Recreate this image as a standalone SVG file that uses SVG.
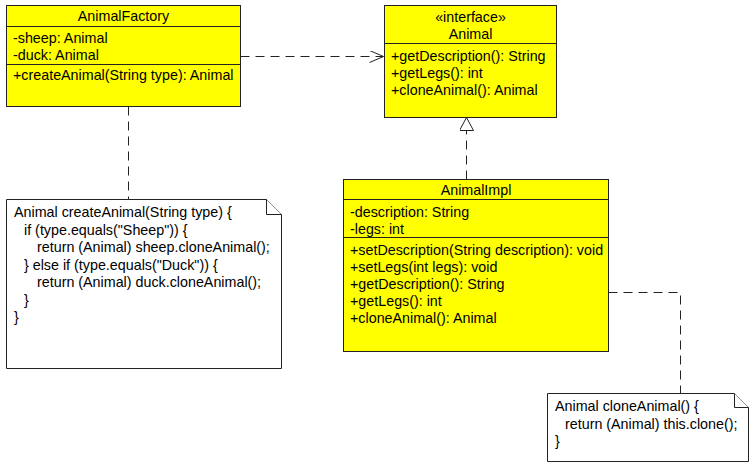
<svg xmlns="http://www.w3.org/2000/svg" width="749" height="462" viewBox="0 0 749 462">
<style>
.box{fill:#ffff00;stroke:#222;stroke-width:1}
.sep{stroke:#222;stroke-width:1}
.note{fill:#fff;stroke:#222;stroke-width:1}
text{font-family:"Liberation Sans",Arial,sans-serif;font-size:14.3px;fill:#000}
.c{text-anchor:middle}
.dash{fill:none;stroke:#222;stroke-width:1;stroke-dasharray:9,6}
</style>
<defs>
<marker id="open" markerWidth="16" markerHeight="12" refX="15" refY="6" orient="auto" markerUnits="userSpaceOnUse">
<path d="M1,0 L15,6 L1,12" fill="none" stroke="#222" stroke-width="1"/>
</marker>
<marker id="tri" markerWidth="16" markerHeight="16" refX="14" refY="7" orient="auto" markerUnits="userSpaceOnUse">
<path d="M1,0 L14,7 L1,14 Z" fill="#fff" stroke="#222" stroke-width="1"/>
</marker>
</defs>
<g id="connectors">
<path class="dash" d="M240.5,56.5 H383.5" marker-end="url(#open)"/>
<path class="dash" d="M466.5,179.5 V117.5" marker-end="url(#tri)"/>
<path class="dash" d="M128.5,106.5 V199.5"/>
<path class="dash" d="M608.5,292.5 H680.5 V393.5"/>
</g>
<g id="AnimalFactory">
<rect class="box" x="6.5" y="5.5" width="234" height="101"/>
<line class="sep" x1="6.5" y1="26.5" x2="240.5" y2="26.5"/>
<line class="sep" x1="6.5" y1="64.5" x2="240.5" y2="64.5"/>
<text class="c" x="123.5" y="21">AnimalFactory</text>
<text x="13" y="43">-sheep: Animal</text>
<text x="13" y="60">-duck: Animal</text>
<text x="13" y="80">+createAnimal(String type): Animal</text>
</g>
<g id="Animal">
<rect class="box" x="384.5" y="5.5" width="172" height="112"/>
<line class="sep" x1="384.5" y1="43.5" x2="556.5" y2="43.5"/>
<text class="c" x="470.5" y="22">«interface»</text>
<text class="c" x="470.5" y="39">Animal</text>
<text x="391" y="61">+getDescription(): String</text>
<text x="391" y="78">+getLegs(): int</text>
<text x="391" y="95">+cloneAnimal(): Animal</text>
</g>
<g id="AnimalImpl">
<rect class="box" x="343.5" y="179.5" width="265" height="172"/>
<line class="sep" x1="343.5" y1="199.5" x2="608.5" y2="199.5"/>
<line class="sep" x1="343.5" y1="237.5" x2="608.5" y2="237.5"/>
<text class="c" x="476" y="195">AnimalImpl</text>
<text x="350" y="217">-description: String</text>
<text x="350" y="234">-legs: int</text>
<text x="350" y="255">+setDescription(String description): void</text>
<text x="350" y="272">+setLegs(int legs): void</text>
<text x="350" y="289">+getDescription(): String</text>
<text x="350" y="306">+getLegs(): int</text>
<text x="350" y="323">+cloneAnimal(): Animal</text>
</g>
<g id="note1">
<path class="note" d="M6.5,199.5 H266.5 L281.5,214.5 V368.5 H6.5 Z"/>
<path class="note" d="M266.5,199.5 V214.5 H281.5" fill="none"/>
<text x="14" y="217">Animal createAnimal(String type) {</text>
<text x="24" y="235">if (type.equals("Sheep")) {</text>
<text x="37" y="252">return (Animal) sheep.cloneAnimal();</text>
<text x="24" y="270">} else if (type.equals("Duck")) {</text>
<text x="37" y="287">return (Animal) duck.cloneAnimal();</text>
<text x="24" y="305">}</text>
<text x="14" y="322">}</text>
</g>
<g id="note2">
<path class="note" d="M547.5,393.5 H734.5 L748.5,407.5 V461.5 H547.5 Z"/>
<path class="note" d="M734.5,393.5 V407.5 H748.5" fill="none"/>
<text x="555" y="411">Animal cloneAnimal() {</text>
<text x="565" y="429">return (Animal) this.clone();</text>
<text x="555" y="446">}</text>
</g>
</svg>
